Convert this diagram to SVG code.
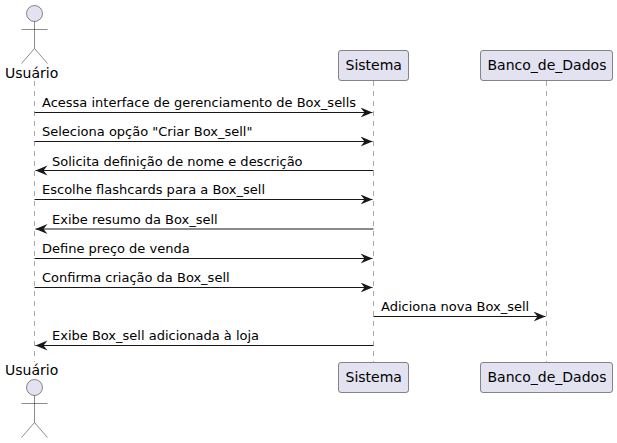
<svg xmlns="http://www.w3.org/2000/svg" width="617" height="443" viewBox="0 0 617 443">
<style>
text{font-family:"DejaVu Sans",sans-serif;fill:#000}
.n{font-size:14px}
.m{font-size:13px}
.life{stroke:#181818;stroke-opacity:.75;stroke-width:.5;stroke-dasharray:5 5;fill:none}
.box{fill:#E2E2F0;stroke:#181818;stroke-width:.5}
.fig{fill:none;stroke:#181818;stroke-width:.5}
.head{fill:#E2E2F0;stroke:#181818;stroke-width:.5}
.msg{stroke:#181818;stroke-width:1;fill:none;marker-end:url(#a)}
</style>
<defs>
<marker id="a" markerUnits="userSpaceOnUse" markerWidth="14" markerHeight="12" refX="12" refY="5" orient="auto"><path d="M0 0L12 5L0 10L4 5Z" fill="#181818"/></marker>
</defs>
<rect width="617" height="443" fill="#fff"/>
<g id="lifelines">
<path class="life" d="M34.5 81V362"/>
<path class="life" d="M373.5 81V362"/>
<path class="life" d="M546.5 81V362"/>
</g>
<g id="connectors">
<path class="msg" d="M34.5 112.5H372.5"/>
<path class="msg" d="M34.5 141.5H372.5"/>
<path class="msg" d="M373.5 170.5H35.5"/>
<path class="msg" d="M34.5 199.5H372.5"/>
<path class="msg" d="M373.5 229H35.5"/>
<path class="msg" d="M34.5 258.5H372.5"/>
<path class="msg" d="M34.5 287.5H372.5"/>
<path class="msg" d="M373.5 316.5H545.5"/>
<path class="msg" d="M373.5 345.5H35.5"/>
</g>
<g id="labels" class="m">
<text class="m" x="42" y="107">Acessa interface de gerenciamento de Box_sells</text>
<text class="m" x="42" y="136">Seleciona opção "Criar Box_sell"</text>
<text class="m" x="52" y="166">Solicita definição de nome e descrição</text>
<text class="m" x="42" y="194">Escolhe flashcards para a Box_sell</text>
<text class="m" x="52" y="224">Exibe resumo da Box_sell</text>
<text class="m" x="42" y="253">Define preço de venda</text>
<text class="m" x="42" y="282">Confirma criação da Box_sell</text>
<text class="m" x="381" y="311">Adiciona nova Box_sell</text>
<text class="m" x="52" y="340">Exibe Box_sell adicionada à loja</text>
</g>
<g id="usuario-top">
<circle class="head" cx="34.5" cy="13.5" r="8"/>
<path class="fig" d="M34.5 21.5V48.5M21.5 29.5H47.5M34.5 48.5L21.5 63.5M34.5 48.5L47.5 63.5"/>
<text class="n" x="5" y="78">Usuário</text>
</g>
<g id="sistema-top">
<rect class="box" x="338.5" y="50.5" width="70" height="30" rx="2.5"/>
<text class="n" x="345.5" y="70">Sistema</text>
</g>
<g id="banco-top">
<rect class="box" x="480.5" y="50.5" width="132" height="30" rx="2.5"/>
<text class="n" x="487.5" y="70">Banco_de_Dados</text>
</g>
<g id="usuario-bottom">
<text class="n" x="5" y="375">Usuário</text>
<circle class="head" cx="34.5" cy="387.5" r="8"/>
<path class="fig" d="M34.5 395.5V422.5M21.5 403.5H47.5M34.5 422.5L21.5 437.5M34.5 422.5L47.5 437.5"/>
</g>
<g id="sistema-bottom">
<rect class="box" x="338.5" y="362.5" width="70" height="30" rx="2.5"/>
<text class="n" x="345.5" y="382">Sistema</text>
</g>
<g id="banco-bottom">
<rect class="box" x="480.5" y="362.5" width="132" height="30" rx="2.5"/>
<text class="n" x="487.5" y="382">Banco_de_Dados</text>
</g>
</svg>
